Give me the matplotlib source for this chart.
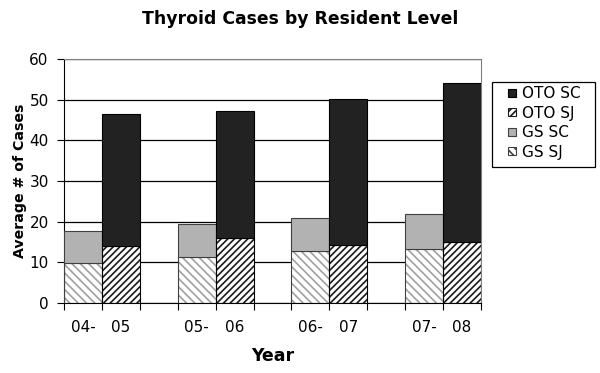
import numpy as np
import matplotlib.pyplot as plt
from matplotlib.patches import Rectangle
from matplotlib.legend_handler import HandlerPatch

plt.rcParams['font.family'] = ['DejaVu Sans']
plt.rcParams['hatch.linewidth'] = 1.2

years = ['04-05', '05-06', '06-07', '07-08']
gs_sj = [9.8, 11.2, 12.8, 13.2]
gs_sc = [8.0, 8.2, 8.0, 8.7]
oto_sj = [14.1, 15.9, 14.3, 14.9]
oto_sc = [32.4, 31.4, 35.8, 39.3]

# excel-style category axis: "04-", "05", blank, "05-", ...
cat_labels = []
for i, y in enumerate(years):
    a, b = y.split('-')
    cat_labels += [a + '-', b]
    if i < len(years) - 1:
        cat_labels.append('')
n_cat = len(cat_labels)
gs_x = np.arange(len(years)) * 3
oto_x = gs_x + 1

W, H = 600, 373
fig = plt.figure(figsize=(W / 100, H / 100), dpi=100)
ax = fig.add_axes([64 / W, 1 - 303 / H, 417 / W, 244 / H])

w = 1.0
gs_sj_h = ax.bar(gs_x, gs_sj, w, align='edge', color='white', edgecolor='#a0a0a0',
                 hatch='\\' * 4, linewidth=0, zorder=2)
ax.bar(gs_x, gs_sj, w, align='edge', fill=False, edgecolor='#404040', linewidth=0.8, zorder=3)
gs_sc_h = ax.bar(gs_x, gs_sc, w, bottom=gs_sj, align='edge', color='#b2b2b2',
                 edgecolor='#404040', linewidth=0.8, zorder=3)
oto_sj_h = ax.bar(oto_x, oto_sj, w, align='edge', color='white', edgecolor='#1a1a1a',
                  hatch='/' * 5, linewidth=0, zorder=2)
ax.bar(oto_x, oto_sj, w, align='edge', fill=False, edgecolor='black', linewidth=0.8, zorder=3)
oto_sc_h = ax.bar(oto_x, oto_sc, w, bottom=oto_sj, align='edge', color='#222222',
                  edgecolor='black', linewidth=0.8, zorder=3)

ax.set_xlim(0, n_cat)
ax.set_ylim(0, 60)
ax.set_yticks(range(0, 61, 10))
ax.yaxis.grid(True, color='black', linewidth=0.9, zorder=0)
ax.set_axisbelow(True)

ax.set_xticks(np.arange(n_cat + 1))
ax.set_xticklabels([])
ax.set_xticks(np.arange(n_cat) + 0.5, minor=True)
ax.set_xticklabels(cat_labels, minor=True)
ax.tick_params(axis='x', which='minor', length=0, pad=12, labelsize=11)
ax.tick_params(axis='x', which='major', length=5, direction='out')
ax.tick_params(axis='y', length=5, direction='out', labelsize=11, pad=6)

for s in ['top', 'right']:
    ax.spines[s].set_color('#808080')
ax.spines['left'].set_color('black')
ax.spines['bottom'].set_color('black')

fig.suptitle('Thyroid Cases by Resident Level', x=0.5, y=1 - 19 / H, va='center',
             fontsize=12.4, fontweight='bold')
ax.set_xlabel('Year', fontsize=12.5, fontweight='bold', labelpad=9)
ax.set_ylabel('Average # of Cases', fontsize=10.2, fontweight='bold', labelpad=2)


# small square markers, right-aligned in the handle box
def small_square(legend, orig_handle, xdescent, ydescent, width, height, fontsize):
    s = 8 * 72 / 100
    return Rectangle((width - s - xdescent, (height - s) / 2 - ydescent), s, s)


sq = HandlerPatch(patch_func=small_square)
handles = [oto_sc_h[0], oto_sj_h[0], gs_sc_h[0], gs_sj_h[0]]
leg = fig.legend(handles, ['OTO SC', 'OTO SJ', 'GS SC', 'GS SJ'],
                 loc='upper left', bbox_to_anchor=(501 / W, 1 - 86 / H), borderaxespad=0,
                 fontsize=11, handlelength=1.0, handleheight=0.7,
                 handletextpad=0.4, labelspacing=0.3, frameon=False, borderpad=0,
                 handler_map={h: sq for h in handles})
# the hatch-only handles need a visible outline in the key
leg.legend_handles[1].set_linewidth(0.8)
leg.legend_handles[3].set_linewidth(0.8)
leg.legend_handles[3].set_edgecolor('#404040')
fig.patches.append(Rectangle((492 / W, 1 - 167 / H), 103 / W, 85 / H, transform=fig.transFigure,
                             fill=False, edgecolor='black', linewidth=0.9))

fig.savefig('out.png', dpi=100)
